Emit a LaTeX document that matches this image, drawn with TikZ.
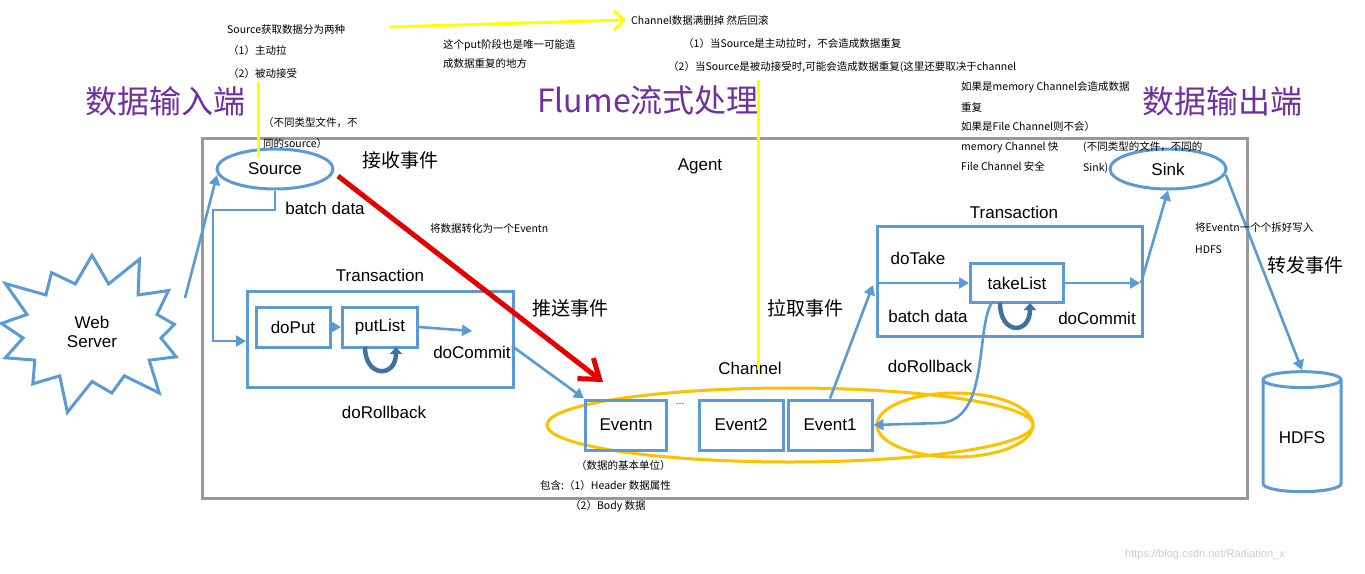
\documentclass[tikz,border=0pt]{standalone}
\usepackage{fontspec}
\setmainfont{Liberation Sans}
\newfontfamily\cjk{Noto Sans CJK SC}
\usetikzlibrary{shapes.geometric,shapes.symbols,arrows.meta}
\definecolor{bl}{HTML}{5B9BD5}
\definecolor{dbl}{HTML}{41719C}
\definecolor{pur}{HTML}{7030A0}
\definecolor{org}{HTML}{FFC000}
\definecolor{yel}{HTML}{FFFF00}
\begin{document}
\begin{tikzpicture}[x=1pt,y=-1pt,
  box/.style={draw=bl,line width=3pt,minimum height=40pt,inner sep=2pt},
  lbl/.style={font=\fontsize{17}{19}\selectfont},
  big/.style={font=\cjk\fontsize{19}{21}\selectfont},
  ttl/.style={font=\cjk\fontsize{32}{34}\selectfont,text=pur},
  sm/.style={font=\cjk\fontsize{10.5}{12}\selectfont,anchor=west,inner sep=0pt},
  arr/.style={draw=bl,line width=2.6pt,-{Triangle[length=10pt,width=11pt]}},
  rot/.style={draw=dbl,line width=4.5pt,-{Triangle[length=7pt,width=12pt]}}]
\useasboundingbox (0,0) rectangle (1365,573);
\fill[white] (0,0) rectangle (1365,573);
% agent
\node[draw=gray!80,line width=3pt,minimum width=1045pt,minimum height=360pt,anchor=north west] (agent) at (201,137) {};
% titles
\node[ttl] (t1) at (165,101) {数据输入端};
\node[ttl] (t2) at (648,100) {Flume流式处理};
\node[ttl] (t3) at (1222,101) {数据输出端};
% source / sink
\node[draw=bl,line width=3pt,ellipse,minimum width=116pt,minimum height=40pt,lbl] (src) at (275,169) {Source};
\node[draw=bl,line width=3pt,ellipse,minimum width=116pt,minimum height=40pt,lbl] (sink) at (1168,169) {Sink};
% web server
\node[starburst,draw=bl,line width=3pt,minimum width=215pt,minimum height=175pt,starburst points=13,starburst point height=38pt,align=center,lbl] (web) at (92,332) {Web\\Server};
\draw[arr] (185,298) -- (217,175);
% channel
\node[draw=org,line width=3pt,ellipse,minimum width=486pt,minimum height=74pt] (ch) at (790,425) {};
\node[draw=org,line width=3pt,ellipse,minimum width=156pt,minimum height=64pt] (ch2) at (955,425) {};
\node[box,minimum width=81pt,minimum height=50pt,lbl] (en) at (626,425) {Eventn};
\node[box,minimum width=84pt,minimum height=50pt,lbl] (e2) at (741,425) {Event2};
\node[box,minimum width=84pt,minimum height=50pt,lbl] (e1) at (830,425) {Event1};
\node[font=\small] (dots) at (680,404) {…};
% transaction 1
\node[box,minimum width=266pt,minimum height=96pt,anchor=north west] (tr1) at (246,290) {};
\node[lbl] (tr1l) at (380,275) {Transaction};
\node[box,minimum width=74pt,lbl] (put) at (293,327) {doPut};
\node[box,minimum width=75pt,lbl] (pl) at (380,327) {putList};
\node[lbl] (dc1) at (472,352) {doCommit};
\node[lbl] (dr1) at (384,412) {doRollback};
\draw[arr] (put) -- (pl);
\draw[arr] (pl.east) -- (472,331);
\draw[rot] (365,347) .. controls (365,378) and (396,378) .. (396,347);
\draw[arr] (src.south) -- (275,210) -- (213,210) -- (213,341) -- (tr1.west |- 0,341);
\draw[arr] (512,346) -- (en.north west);
\draw[red!90!black,line width=5pt,-{Straight Barb[length=18pt,width=26pt]}] (338,176) -- (603,382);
% transaction 2
\node[box,minimum width=265pt,minimum height=110pt,anchor=north west] (tr2) at (876,225) {};
\node[lbl] (tr2l) at (1014,212) {Transaction};
\node[box,minimum width=93pt,minimum height=39pt,lbl] (tl) at (1017,283) {takeList};
\node[lbl] (dt) at (918,258) {doTake};
\node[lbl] (bd2) at (928,316) {batch data};
\node[lbl] (dc2) at (1097,318) {doCommit};
\node[lbl] (dr2) at (930,366) {doRollback};
\draw[arr] (e1.north) -- (873,285);
\draw[arr] (876,283) -- (tl.west);
\draw[arr] (tl.east) -- (1140,283);
\draw[arr] (1141,283) -- (sink.south);
\draw[rot] (1000,303) .. controls (1000,335) and (1030,335) .. (1030,303);
\draw[draw=bl,line width=2.6pt,-{Triangle[length=10pt,width=11pt]}] (992,302) .. controls (975,330) and (990,420) .. (940,423) -- (e1.east);
% HDFS
\node[draw=bl,line width=3pt,cylinder,shape border rotate=90,aspect=0.3,minimum width=78pt,minimum height=120pt,lbl] (hdfs) at (1302,438) {HDFS};
\draw[arr] (1226,175) -- (hdfs.north);
% labels
\node[lbl] (bd1) at (325,208) {batch data};
\node[lbl] (agl) at (700,166) {Agent};
\node[lbl] (chl) at (750,368) {Channel};
\node[big] (r1) at (400,160) {接收事件};
\node[big] (r2) at (570,308) {推送事件};
\node[big] (r3) at (805,308) {拉取事件};
\node[big] (r4) at (1305,265) {转发事件};
% small texts
\node[sm] (s1) at (227,30) {Source获取数据分为两种};
\node[sm] (s2) at (228,51) {（1）主动拉};
\node[sm] (s3) at (228,74) {（2）被动接受};
\node[sm] (s4) at (443,45) {这个put阶段也是唯一可能造};
\node[sm] (s5) at (443,64) {成数据重复的地方};
\node[sm] (s6) at (263,123) {（不同类型文件，不};
\node[sm] (s7) at (263,144) {同的source）};
\node[sm] (s8) at (631,20) {Channel数据满删掉 然后回滚};
\node[sm] (s9) at (683,44) {（1）当Source是主动拉时，不会造成数据重复};
\node[sm] (s10) at (668,67) {（2）当Source是被动接受时,可能会造成数据重复(这里还要取决于channel};
\node[sm] (s11) at (961,87) {如果是memory Channel会造成数据};
\node[sm] (s12) at (961,108) {重复};
\node[sm] (s13) at (961,127) {如果是File Channel则不会）};
\node[sm] (s14) at (961,147) {memory Channel 快};
\node[sm] (s15) at (961,166) {File Channel 安全};
\node[sm] (s16) at (1083,147) {(不同类型的文件，不同的};
\node[sm] (s17) at (1083,168) {Sink)};
\node[sm] (s18) at (430,229) {将数据转化为一个Eventn};
\node[sm] (s19) at (1195,228) {将Eventn一个个拆好写入};
\node[sm] (s20) at (1195,250) {HDFS};
\node[sm] (s21) at (576,466) {（数据的基本单位）};
\node[sm] (s22) at (540,486) {包含:（1）Header 数据属性};
\node[sm] (s23) at (570,506) {（2）Body 数据};
\node[sm,text=gray!40,font=\fontsize{11}{12}\selectfont] (wm) at (1125,555) {https://blog.csdn.net/Radiation\_x};
% yellow
\draw[yel,line width=3pt] (258,82) -- (258,157);
\draw[yel,line width=3pt] (758,80) -- (758,370);
\draw[yel,line width=3pt,-{Straight Barb[length=10pt,width=20pt]}] (390,27) -- (626,20);
\end{tikzpicture}
\end{document}
